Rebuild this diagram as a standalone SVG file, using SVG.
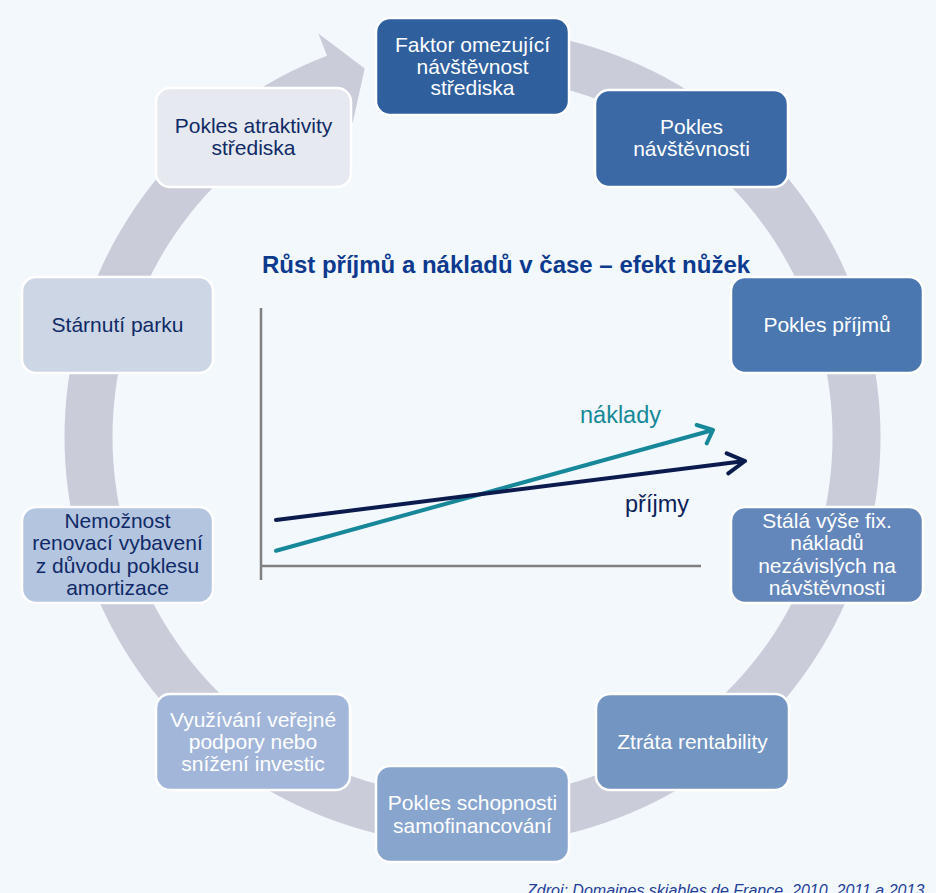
<svg xmlns="http://www.w3.org/2000/svg" width="936" height="893" viewBox="0 0 936 893">
<style>
.box{stroke:#ffffff;stroke-width:2.5}
.t{font-family:"Liberation Sans",Arial,sans-serif;font-size:21px;text-anchor:middle}
.w{fill:#ffffff}
.d{fill:#0f2a66}
.axis{stroke:#808080;stroke-width:2.5;fill:none}
.ln{fill:none;stroke-width:4;stroke-linecap:round;stroke-linejoin:round}
</style>
<rect x="0" y="0" width="936" height="893" fill="#f3f8fd"/>
<path id="ring" fill="#cacdd9" d="M401.65,35.2 A408,408 0 1 1 326.95,55.85 L318.39,33.43 L364.72,68.43 L352.64,123.11 L344.07,100.69 A360,360 0 1 0 409.99,82.47 Z"/>
<g id="connectors">
<line class="axis" x1="261" y1="308" x2="261" y2="580"/>
<line class="axis" x1="261" y1="566" x2="701" y2="566"/>
<path class="ln" stroke="#16889a" d="M276,550.7 L713,430 M696.7,425 L713,430 L706.7,443.3"/>
<path class="ln" stroke="#0c1b4d" d="M276,520 L745,461 M726.7,453.3 L745,461 L728.3,473.3"/>
</g>
<text x="506" y="272.5" font-family="Liberation Sans,Arial,sans-serif" font-size="24" font-weight="bold" fill="#0d3a8e" text-anchor="middle">Růst příjmů a nákladů v čase – efekt nůžek</text>
<text x="620.5" y="423" font-family="Liberation Sans,Arial,sans-serif" font-size="23.5" fill="#16889a" text-anchor="middle">náklady</text>
<text x="657" y="511.5" font-family="Liberation Sans,Arial,sans-serif" font-size="23.5" fill="#0c1f5c" text-anchor="middle">příjmy</text>
<g id="n1"><rect class="box" x="376" y="18" width="193" height="97" rx="14" fill="#2f5f9d"/>
<text class="t w" x="472.5" y="52">Faktor omezující</text><text class="t w" x="472.5" y="73.5">návštěvnost</text><text class="t w" x="472.5" y="95">střediska</text></g>
<g id="n2"><rect class="box" x="595" y="90" width="193" height="97" rx="14" fill="#3a69a6"/>
<text class="t w" x="691.5" y="134">Pokles</text><text class="t w" x="691.5" y="156">návštěvnosti</text></g>
<g id="n3"><rect class="box" x="731" y="277" width="192" height="96" rx="14" fill="#4a77b0"/>
<text class="t w" x="827" y="332">Pokles příjmů</text></g>
<g id="n4"><rect class="box" x="731" y="507" width="192" height="96" rx="14" fill="#6386bb"/>
<text class="t w" x="827" y="528">Stálá výše fix.</text><text class="t w" x="827" y="550">nákladů</text><text class="t w" x="827" y="573">nezávislých na</text><text class="t w" x="827" y="595">návštěvnosti</text></g>
<g id="n5"><rect class="box" x="596" y="694" width="193" height="96" rx="14" fill="#7395c2"/>
<text class="t w" x="692.5" y="749">Ztráta rentability</text></g>
<g id="n6"><rect class="box" x="376" y="766" width="193" height="96" rx="14" fill="#88a5cd"/>
<text class="t w" x="472.5" y="810">Pokles schopnosti</text><text class="t w" x="472.5" y="832.5">samofinancování</text></g>
<g id="n7"><rect class="box" x="156" y="694" width="194" height="96" rx="14" fill="#a2b6d9"/>
<text class="t w" x="253" y="727">Využívání veřejné</text><text class="t w" x="253" y="749">podpory nebo</text><text class="t w" x="253" y="771">snížení investic</text></g>
<g id="n8"><rect class="box" x="22" y="507" width="191" height="96" rx="14" fill="#b4c5e0"/>
<text class="t d" x="117.5" y="528">Nemožnost</text><text class="t d" x="117.5" y="550">renovací vybavení</text><text class="t d" x="117.5" y="573">z důvodu poklesu</text><text class="t d" x="117.5" y="595">amortizace</text></g>
<g id="n9"><rect class="box" x="22" y="277" width="191" height="96" rx="14" fill="#ccd6e4"/>
<text class="t d" x="117.5" y="332">Stárnutí parku</text></g>
<g id="n10"><rect class="box" x="156" y="88" width="195" height="99" rx="14" fill="#e6e9f0"/>
<text class="t d" x="253.5" y="133">Pokles atraktivity</text><text class="t d" x="253.5" y="155">střediska</text></g>
<text x="527" y="896" font-family="Liberation Sans,Arial,sans-serif" font-size="16" font-style="italic" fill="#1f3f99">Zdroj: Domaines skiables de France, 2010, 2011 a 2013</text>
</svg>
